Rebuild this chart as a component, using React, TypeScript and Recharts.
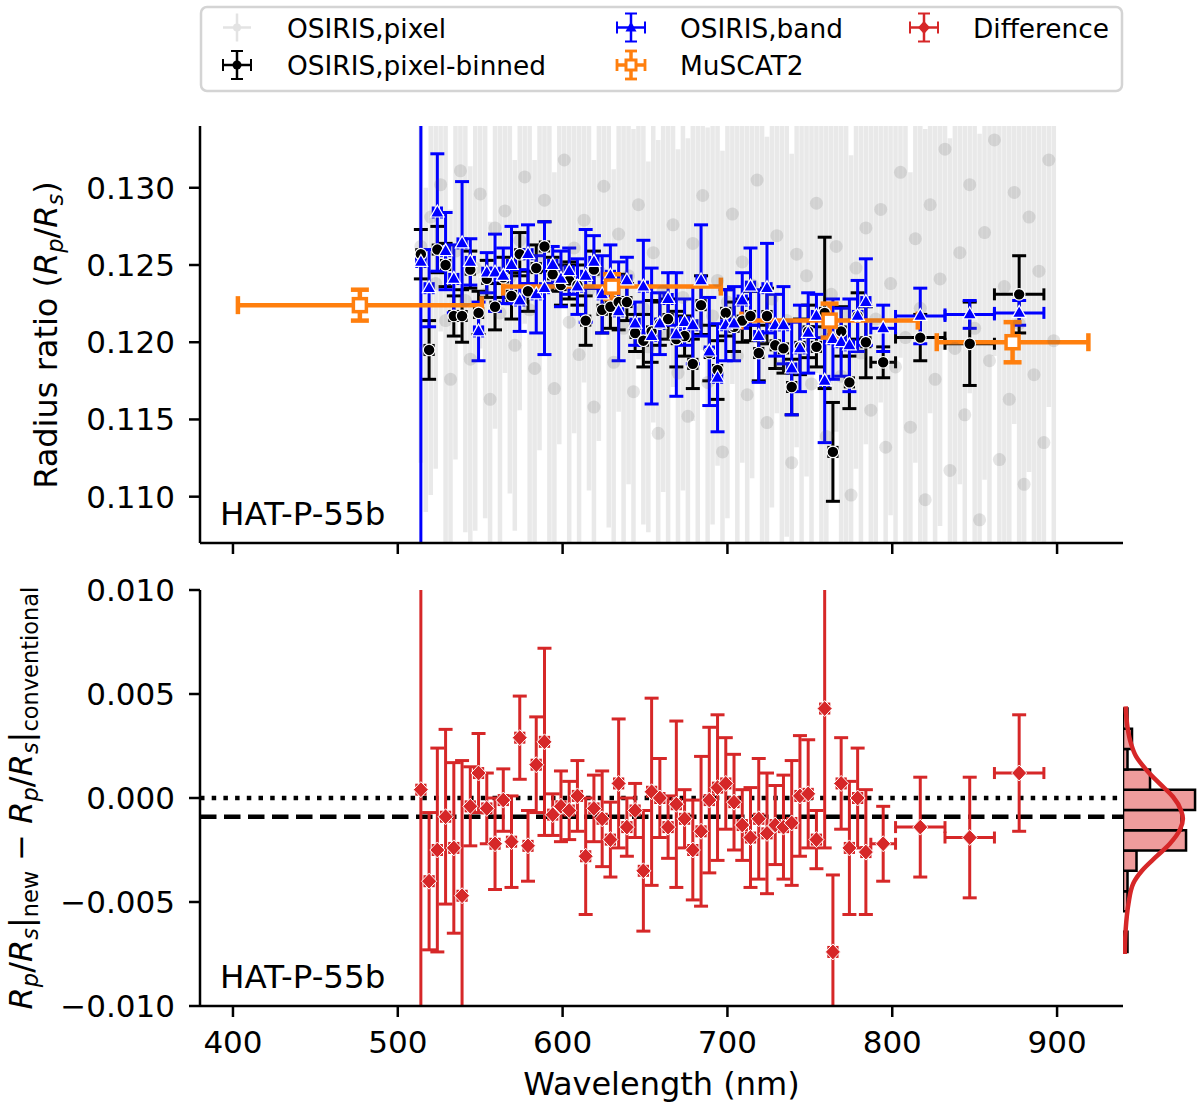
import React from 'react';
import { ComposedChart, Scatter, XAxis, YAxis, ErrorBar, ReferenceLine, ReferenceArea } from 'recharts';

const FONT = '"DejaVu Sans", "Liberation Sans", sans-serif';

// ---------- OSIRIS, pixel (faint background) ----------
const pixelWl = [
  514, 517, 520, 523, 526, 529, 532, 535, 538, 541,
  544, 547, 550, 553, 556, 559, 562, 565, 568, 571,
  574, 577, 580, 583, 586, 589, 592, 595, 598, 601,
  604, 607, 610, 613, 616, 619, 622, 625, 628, 631,
  634, 637, 640, 643, 646, 649, 652, 655, 658, 661,
  664, 667, 670, 673, 676, 679, 682, 685, 688, 691,
  694, 697, 700, 703, 706, 709, 712, 715, 718, 721,
  724, 727, 730, 733, 736, 739, 742, 745, 748, 751,
  754, 757, 760, 763, 766, 769, 772, 775, 778, 781,
  784, 787, 790, 793, 796, 799, 802, 805, 808, 811,
  814, 817, 820, 823, 826, 829, 832, 835, 838, 841,
  844, 847, 850, 853, 856, 859, 862, 865, 868, 871,
  874, 877, 880, 883, 886, 889, 892, 895, 898,
];
const pixelRp = [
  0.1262, 0.1195, 0.1281, 0.1238, 0.1302, 0.1214, 0.1176, 0.1259, 0.1311, 0.1227,
  0.1189, 0.1248, 0.1296, 0.1231, 0.1163, 0.1274, 0.1219, 0.1285, 0.1242, 0.1198,
  0.1266, 0.1307, 0.1221, 0.1183, 0.1255, 0.1292, 0.1236, 0.1170, 0.1249, 0.1318,
  0.1213, 0.1261, 0.1192, 0.1279, 0.1234, 0.1158, 0.1246, 0.1301, 0.1225, 0.1187,
  0.1270, 0.1209, 0.1243, 0.1168, 0.1289, 0.1222, 0.1197, 0.1258, 0.1141, 0.1233,
  0.1205, 0.1276, 0.1180, 0.1229, 0.1152, 0.1264, 0.1211, 0.1295, 0.1174, 0.1217,
  0.1240, 0.1129, 0.1226, 0.1283, 0.1191, 0.1252, 0.1166, 0.1237, 0.1305, 0.1201,
  0.1148, 0.1228, 0.1269, 0.1185, 0.1214, 0.1122, 0.1257, 0.1196, 0.1243, 0.1173,
  0.1290, 0.1207, 0.1139, 0.1231, 0.1262, 0.1178, 0.1219, 0.1101, 0.1248, 0.1193,
  0.1274, 0.1156, 0.1215, 0.1286, 0.1132, 0.1238, 0.1184, 0.1310, 0.1203, 0.1145,
  0.1267, 0.1222, 0.1098, 0.1289, 0.1176, 0.1241, 0.1325, 0.1117, 0.1196, 0.1258,
  0.1153, 0.1302, 0.1209, 0.1085, 0.1271, 0.1188, 0.1331, 0.1124, 0.1236, 0.1163,
  0.1297, 0.1212, 0.1108, 0.1281, 0.1179, 0.1246, 0.1135, 0.1318, 0.1201,
];
const pixelErr = [
  0.0140, 0.0105, 0.0180, 0.0120, 0.0095, 0.0160, 0.0110, 0.0135, 0.0090, 0.0150,
  0.0125, 0.0170, 0.0100, 0.0145, 0.0115, 0.0130, 0.0185, 0.0105, 0.0140, 0.0120,
  0.0110, 0.0095, 0.0155, 0.0135, 0.0125, 0.0100, 0.0165, 0.0140, 0.0115, 0.0090,
  0.0150, 0.0120, 0.0175, 0.0105, 0.0130, 0.0160, 0.0110, 0.0095, 0.0145, 0.0125,
  0.0115, 0.0155, 0.0135, 0.0170, 0.0100, 0.0140, 0.0120, 0.0110, 0.0190, 0.0130,
  0.0160, 0.0105, 0.0145, 0.0125, 0.0180, 0.0115, 0.0150, 0.0100, 0.0165, 0.0135,
  0.0120, 0.0195, 0.0140, 0.0110, 0.0155, 0.0130, 0.0175, 0.0125, 0.0100, 0.0145,
  0.0185, 0.0135, 0.0115, 0.0160, 0.0140, 0.0200, 0.0125, 0.0150, 0.0130, 0.0170,
  0.0110, 0.0145, 0.0210, 0.0135, 0.0120, 0.0165, 0.0150, 0.0220, 0.0130, 0.0155,
  0.0140, 0.0190, 0.0160, 0.0125, 0.0230, 0.0150, 0.0175, 0.0120, 0.0200, 0.0165,
  0.0145, 0.0170, 0.0240, 0.0135, 0.0185, 0.0160, 0.0130, 0.0215, 0.0175, 0.0150,
  0.0200, 0.0135, 0.0180, 0.0250, 0.0160, 0.0190, 0.0140, 0.0225, 0.0170, 0.0205,
  0.0150, 0.0185, 0.0235, 0.0165, 0.0210, 0.0175, 0.0245, 0.0160, 0.0195,
];

// ---------- binned wavelengths (shared by binned, band and difference) ----------
const binWl = [
  514, 519, 524, 529, 534, 539, 544, 549, 554, 559,
  564, 569, 574, 579, 584, 589, 594, 599, 604, 609,
  614, 619, 624, 629, 634, 639, 644, 649, 654, 659,
  664, 669, 674, 679, 684, 689, 694, 699, 704, 709,
  714, 719, 724, 729, 734, 739, 744, 749, 754, 759,
  764, 769, 774, 779, 784, 794.5, 817, 847, 877,
];
const binXErr = [
  2.5, 2.5, 2.5, 2.5, 2.5, 2.5, 2.5, 2.5, 2.5, 2.5,
  2.5, 2.5, 2.5, 2.5, 2.5, 2.5, 2.5, 2.5, 2.5, 2.5,
  2.5, 2.5, 2.5, 2.5, 2.5, 2.5, 2.5, 2.5, 2.5, 2.5,
  2.5, 2.5, 2.5, 2.5, 2.5, 2.5, 2.5, 2.5, 2.5, 2.5,
  2.5, 2.5, 2.5, 2.5, 2.5, 2.5, 2.5, 2.5, 2.5, 2.5,
  2.5, 2.5, 2.5, 2.5, 2.5, 7.5, 15, 15, 15,
];

// OSIRIS, pixel-binned
const binnedRp = [
  0.1257, 0.1195, 0.1260, 0.1250, 0.1217, 0.1217, 0.1247, 0.1219, 0.1241, 0.1223,
  0.1242, 0.1230, 0.1257, 0.1233, 0.1248, 0.1262, 0.1244, 0.1237, 0.1240, 0.1237,
  0.1214, 0.1247, 0.1221, 0.1223, 0.1226, 0.1226, 0.1206, 0.1201, 0.1207, 0.1212,
  0.1215, 0.1202, 0.1204, 0.1186, 0.1224, 0.1193, 0.1182, 0.1219, 0.1210, 0.1214,
  0.1217, 0.1193, 0.1217, 0.1198, 0.1196, 0.1171, 0.1197, 0.1207, 0.1197, 0.1219,
  0.1129, 0.1207, 0.1174, 0.1217, 0.1200, 0.1187, 0.1203, 0.1199, 0.1231,
];
const binnedErr = [
  0.0016, 0.0019, 0.0015, 0.0014, 0.0013, 0.0017, 0.0012, 0.0014, 0.0012, 0.0015,
  0.0013, 0.0015, 0.0014, 0.0013, 0.0015, 0.0016, 0.0011, 0.0013, 0.0012, 0.0013,
  0.0016, 0.0012, 0.0015, 0.0014, 0.0018, 0.0012, 0.0012, 0.0017, 0.0020, 0.0014,
  0.0013, 0.0018, 0.0013, 0.0016, 0.0019, 0.0018, 0.0019, 0.0015, 0.0016, 0.0014,
  0.0016, 0.0018, 0.0018, 0.0015, 0.0016, 0.0018, 0.0018, 0.0017, 0.0013, 0.0049,
  0.0032, 0.0016, 0.0017, 0.0015, 0.0023, 0.0010, 0.0015, 0.0027, 0.0025,
];

// OSIRIS, band
const bandRp = [
  0.1252, 0.1235, 0.1284, 0.1259, 0.1241, 0.1264, 0.1252, 0.1207, 0.1245, 0.1245,
  0.1243, 0.1250, 0.1227, 0.1257, 0.1231, 0.1235, 0.1250, 0.1241, 0.1246, 0.1236,
  0.1243, 0.1252, 0.1231, 0.1243, 0.1220, 0.1240, 0.1212, 0.1236, 0.1204, 0.1212,
  0.1228, 0.1205, 0.1213, 0.1211, 0.1240, 0.1194, 0.1177, 0.1211, 0.1212, 0.1227,
  0.1236, 0.1204, 0.1235, 0.1211, 0.1211, 0.1183, 0.1196, 0.1206, 0.1217, 0.1175,
  0.1202, 0.1200, 0.1198, 0.1217, 0.1226, 0.1209, 0.1217, 0.1218, 0.1219,
];
const bandErr = [
  0.0300, 0.0025, 0.0038, 0.0025, 0.0022, 0.0040, 0.0015, 0.0019, 0.0013, 0.0025,
  0.0018, 0.0025, 0.0020, 0.0019, 0.0025, 0.0043, 0.0012, 0.0018, 0.0015, 0.0018,
  0.0030, 0.0017, 0.0025, 0.0020, 0.0032, 0.0015, 0.0014, 0.0030, 0.0044, 0.0020,
  0.0017, 0.0040, 0.0015, 0.0025, 0.0036, 0.0035, 0.0035, 0.0023, 0.0024, 0.0018,
  0.0025, 0.0030, 0.0029, 0.0020, 0.0025, 0.0030, 0.0028, 0.0026, 0.0014, 0.0040,
  0.0026, 0.0022, 0.0030, 0.0023, 0.0028, 0.0015, 0.0018, 0.0009, 0.0008,
];

// Difference (new - conventional)
const diffVal = [
  0.0004, -0.0040, -0.0025, -0.0009, -0.0024, -0.0047, -0.0004, 0.0012, -0.0005, -0.0022,
  -0.0001, -0.0021, 0.0029, -0.0023, 0.0016, 0.0027, -0.0008, -0.0004, -0.0006, 0.0001,
  -0.0028, -0.0005, -0.0010, -0.0020, 0.0007, -0.0014, -0.0006, -0.0035, 0.0003, 0.0000,
  -0.0014, -0.0003, -0.0010, -0.0025, -0.0016, -0.0001, 0.0005, 0.0007, -0.0002, -0.0013,
  -0.0019, -0.0010, -0.0017, -0.0013, -0.0014, -0.0012, 0.0001, 0.0002, -0.0020, 0.0043,
  -0.0074, 0.0007, -0.0024, 0.0000, -0.0026, -0.0022, -0.0014, -0.0019, 0.0012,
];
const diffErr = [
  0.0130, 0.0033, 0.0049, 0.0042, 0.0041, 0.0065, 0.0019, 0.0019, 0.0017, 0.0022,
  0.0015, 0.0022, 0.0020, 0.0017, 0.0023, 0.0045, 0.0010, 0.0017, 0.0014, 0.0017,
  0.0028, 0.0016, 0.0023, 0.0018, 0.0031, 0.0014, 0.0013, 0.0029, 0.0045, 0.0019,
  0.0015, 0.0040, 0.0014, 0.0024, 0.0036, 0.0035, 0.0035, 0.0022, 0.0023, 0.0017,
  0.0024, 0.0029, 0.0029, 0.0019, 0.0025, 0.0030, 0.0029, 0.0026, 0.0014, 0.0067,
  0.0037, 0.0022, 0.0032, 0.0024, 0.0030, 0.0018, 0.0024, 0.0029, 0.0028,
];
const meanDiff = -0.0009;

// MuSCAT2
const muscatWl = [477, 630, 762, 873];
const muscatXErr = [74, 66, 53.5, 46];
const muscatRp = [0.1224, 0.1236, 0.1214, 0.1200];
const muscatErr = [0.0010, 0.0008, 0.0011, 0.0013];

// Histogram of differences (side panel)
const histEdges = [-0.0074, -0.00643, -0.00545, -0.00448, -0.0035, -0.00253, -0.00155, -0.00058, 0.0004, 0.00137, 0.00235, 0.00333, 0.0043];
const histCounts = [1, 0, 1, 1, 3, 14, 13, 16, 6, 1, 2, 1];
const curveVal = [0.0044, 0.0034, 0.0026, 0.0020, 0.00135, 0.0007, 0.00006, -0.0006, -0.0010, -0.0015, -0.0022, -0.0028, -0.0035, -0.0041, -0.0051, -0.0063, -0.0075];
const curveCount = [0.6, 1.0, 1.8, 2.9, 5.2, 8.1, 11.1, 12.9, 13.3, 12.7, 10.4, 7.5, 4.2, 2.3, 1.2, 0.6, 0.4];

// Ticks
const xTicks = [400, 500, 600, 700, 800, 900];
const topYTicks = [0.110, 0.115, 0.120, 0.125, 0.130];
const botYTicks = [-0.010, -0.005, 0.0, 0.005, 0.010];

// ---------- rows built from the arrays ----------
const pixelRows = pixelWl.map((x, i) => ({ x, y: pixelRp[i], ey: pixelErr[i] }));
const binnedRows = binWl.map((x, i) => ({ x, y: binnedRp[i], ex: binXErr[i], ey: binnedErr[i] }));
const bandRows = binWl.map((x, i) => ({ x, y: bandRp[i], ex: binXErr[i], ey: bandErr[i] }));
const diffRows = binWl.map((x, i) => ({ x, y: diffVal[i], ex: binXErr[i], ey: diffErr[i] }));
const muscatRows = muscatWl.map((x, i) => ({ x, y: muscatRp[i], ex: muscatXErr[i], ey: muscatErr[i] }));
const curveRows = curveVal.map((v, i) => ({ c: curveCount[i], v }));

// ---------- marker shapes ----------
const grayShape = (p: any) =>
  p.cx == null ? <g /> : <circle cx={p.cx} cy={p.cy} r={6.5} fill="rgba(90,90,90,0.16)" />;
const blackShape = (p: any) =>
  p.cx == null ? <g /> : <circle cx={p.cx} cy={p.cy} r={5.8} fill="#000" stroke="#fff" strokeWidth={1.2} />;
const blueShape = (p: any) => {
  if (p.cx == null) return <g />;
  const { cx, cy } = p;
  return <path d={`M${cx},${cy - 7.5}L${cx + 6.8},${cy + 4.5}L${cx - 6.8},${cy + 4.5}Z`} fill="#0000ff" stroke="#fff" strokeWidth={1.2} />;
};
const orangeShape = (p: any) =>
  p.cx == null ? <g /> : <rect x={p.cx - 6.5} y={p.cy - 6.5} width={13} height={13} fill="#fff" stroke="#ff7f0e" strokeWidth={3.5} />;
const redShape = (p: any) => {
  if (p.cx == null) return <g />;
  const { cx, cy } = p;
  return <path d={`M${cx},${cy - 8}L${cx + 7.5},${cy}L${cx},${cy + 8}L${cx - 7.5},${cy}Z`} fill="#d62728" stroke="#fff" strokeWidth={1} />;
};
const noShape = () => <g />;

const tickStyle = { fontSize: 31, fontFamily: FONT, fill: '#000' };
const axisLineStyle = { stroke: '#000', strokeWidth: 2.5 };
const fmt = (v: number) => (v < -1e-9 ? '\u2212' + Math.abs(v).toFixed(3) : Math.abs(v).toFixed(3));

// panel geometry (chart sizes / margins)
const TOP_H = 580;
const TOP_MARGIN = { top: 126, right: 77, bottom: 7, left: 0 };
const BOT_H = 551;
const BOT_MARGIN = { top: 30, right: 77, bottom: 35, left: 0 };

// ---------- legend icon ----------
function ErrIcon({ cx, cy, color, lw, cap, kind, faint }: any) {
  const h = 14;
  const v = 14;
  return (
    <g>
      <line x1={cx - h} y1={cy} x2={cx + h} y2={cy} stroke={color} strokeWidth={lw} />
      <line x1={cx} y1={cy - v} x2={cx} y2={cy + v} stroke={color} strokeWidth={lw} />
      {cap && (
        <g stroke={color} strokeWidth={lw * 0.8}>
          <line x1={cx - h} y1={cy - 6} x2={cx - h} y2={cy + 6} />
          <line x1={cx + h} y1={cy - 6} x2={cx + h} y2={cy + 6} />
          <line x1={cx - 6} y1={cy - v} x2={cx + 6} y2={cy - v} />
          <line x1={cx - 6} y1={cy + v} x2={cx + 6} y2={cy + v} />
        </g>
      )}
      {kind === 'circle' && <circle cx={cx} cy={cy} r={faint ? 4 : 4.5} fill={color} />}
      {kind === 'tri' && <path d={`M${cx},${cy - 6}L${cx + 5.5},${cy + 4}L${cx - 5.5},${cy + 4}Z`} fill={color} />}
      {kind === 'square' && <rect x={cx - 5} y={cy - 5} width={10} height={10} fill="#fff" stroke={color} strokeWidth={3} />}
      {kind === 'diamond' && <path d={`M${cx},${cy - 6.5}L${cx + 6},${cy}L${cx},${cy + 6.5}L${cx - 6},${cy}Z`} fill={color} />}
    </g>
  );
}

// invisible axes that keep the data layers aligned with the drawn axes
function HiddenAxes({ yDomain, xHeight }: { yDomain: number[]; xHeight: number }) {
  return null as any;
}

export default function App() {
  return (
    <div style={{ position: 'absolute', left: 0, top: 0, width: 1200, height: 1111, background: '#fff', fontFamily: FONT }}>
      {/* ===== Top panel: data layer (clipped to plot area) ===== */}
      <div style={{ position: 'absolute', left: 0, top: 0, width: 1200, height: TOP_H, clipPath: 'inset(126px 77px 37px 200px)' }}>
        <ComposedChart width={1200} height={TOP_H} margin={TOP_MARGIN}>
          <XAxis type="number" dataKey="x" domain={[380, 940]} allowDataOverflow ticks={xTicks}
            height={30} tick={false} tickLine={false} axisLine={false} />
          <YAxis type="number" dataKey="y" domain={[0.107, 0.134]} allowDataOverflow ticks={topYTicks}
            width={200} tick={false} tickLine={false} axisLine={false} />
          <Scatter name="OSIRIS,pixel" data={pixelRows} shape={grayShape} isAnimationActive={false}>
            <ErrorBar dataKey="ey" direction="y" stroke="rgba(120,120,120,0.16)" strokeWidth={4.5} width={0} isAnimationActive={false} />
          </Scatter>
          <Scatter name="OSIRIS,pixel-binned" data={binnedRows} shape={blackShape} isAnimationActive={false}>
            <ErrorBar dataKey="ex" direction="x" stroke="#000" strokeWidth={3} width={6} isAnimationActive={false} />
            <ErrorBar dataKey="ey" direction="y" stroke="#000" strokeWidth={3} width={7} isAnimationActive={false} />
          </Scatter>
          <Scatter name="OSIRIS,band" data={bandRows} shape={blueShape} isAnimationActive={false}>
            <ErrorBar dataKey="ex" direction="x" stroke="#0000ff" strokeWidth={3} width={6} isAnimationActive={false} />
            <ErrorBar dataKey="ey" direction="y" stroke="#0000ff" strokeWidth={3} width={7} isAnimationActive={false} />
          </Scatter>
          <Scatter name="MuSCAT2" data={muscatRows} shape={orangeShape} isAnimationActive={false}>
            <ErrorBar dataKey="ex" direction="x" stroke="#ff7f0e" strokeWidth={4.5} width={9} isAnimationActive={false} />
            <ErrorBar dataKey="ey" direction="y" stroke="#ff7f0e" strokeWidth={4.5} width={9} isAnimationActive={false} />
          </Scatter>
        </ComposedChart>
      </div>
      {/* ===== Top panel: axes and frame ===== */}
      <div style={{ position: 'absolute', left: 0, top: 0 }}>
        <ComposedChart width={1200} height={TOP_H} margin={TOP_MARGIN}>
          <XAxis xAxisId="b" type="number" dataKey="x" domain={[380, 940]} allowDataOverflow ticks={xTicks}
            tickFormatter={() => ''} height={30} tickSize={11} axisLine={axisLineStyle} tickLine={axisLineStyle} tick={tickStyle} />
          <XAxis xAxisId="t" orientation="top" type="number" domain={[380, 940]} allowDataOverflow height={0}
            tick={false} tickLine={false} axisLine={axisLineStyle} />
          <YAxis yAxisId="l" type="number" dataKey="y" domain={[0.107, 0.134]} allowDataOverflow ticks={topYTicks}
            tickFormatter={fmt} width={200} tickSize={11} tickMargin={14} axisLine={axisLineStyle} tickLine={axisLineStyle} tick={tickStyle} />
          <YAxis yAxisId="r" orientation="right" type="number" domain={[0.107, 0.134]} allowDataOverflow width={0}
            tick={false} tickLine={false} axisLine={axisLineStyle} />
        </ComposedChart>
      </div>

      {/* ===== Bottom panel: data layer (clipped) ===== */}
      <div style={{ position: 'absolute', left: 0, top: 560, width: 1200, height: BOT_H, clipPath: 'inset(30px 77px 105px 200px)' }}>
        <ComposedChart width={1200} height={BOT_H} margin={BOT_MARGIN}>
          <XAxis type="number" dataKey="x" domain={[380, 940]} allowDataOverflow ticks={xTicks}
            height={70} tick={false} tickLine={false} axisLine={false} />
          <YAxis type="number" dataKey="y" domain={[-0.01, 0.01]} allowDataOverflow ticks={botYTicks}
            width={200} tick={false} tickLine={false} axisLine={false} />
          <ReferenceLine y={0} stroke="#000" strokeWidth={4.5} strokeDasharray="4.5 7.2" />
          <ReferenceLine y={meanDiff} stroke="#000" strokeWidth={4.5} strokeDasharray="16.5 7.5" />
          <Scatter name="Difference" data={diffRows} shape={redShape} isAnimationActive={false}>
            <ErrorBar dataKey="ex" direction="x" stroke="#d62728" strokeWidth={3} width={6} isAnimationActive={false} />
            <ErrorBar dataKey="ey" direction="y" stroke="#d62728" strokeWidth={3} width={7} isAnimationActive={false} />
          </Scatter>
        </ComposedChart>
      </div>
      {/* ===== Bottom panel: axes and frame ===== */}
      <div style={{ position: 'absolute', left: 0, top: 560 }}>
        <ComposedChart width={1200} height={BOT_H} margin={BOT_MARGIN}>
          <XAxis xAxisId="b" type="number" dataKey="x" domain={[380, 940]} allowDataOverflow ticks={xTicks}
            height={70} tickSize={11} tickMargin={14} axisLine={axisLineStyle} tickLine={axisLineStyle} tick={tickStyle} />
          <XAxis xAxisId="t" orientation="top" type="number" domain={[380, 940]} allowDataOverflow height={0}
            tick={false} tickLine={false} axisLine={axisLineStyle} />
          <YAxis yAxisId="l" type="number" dataKey="y" domain={[-0.01, 0.01]} allowDataOverflow ticks={botYTicks}
            tickFormatter={fmt} width={200} tickSize={11} tickMargin={14} axisLine={axisLineStyle} tickLine={axisLineStyle} tick={tickStyle} />
          <YAxis yAxisId="r" orientation="right" type="number" domain={[-0.01, 0.01]} allowDataOverflow width={0}
            tick={false} tickLine={false} axisLine={axisLineStyle} />
        </ComposedChart>
      </div>

      {/* ===== Histogram side panel ===== */}
      <div style={{ position: 'absolute', left: 1123, top: 560 }}>
        <ComposedChart width={77} height={BOT_H} margin={{ top: 30, right: 0, bottom: 105, left: 0 }}>
          <XAxis type="number" dataKey="c" domain={[0, 17.1]} allowDataOverflow hide />
          <YAxis type="number" dataKey="v" domain={[-0.01, 0.01]} allowDataOverflow hide />
          {histCounts.map((c, i) =>
            c > 0 ? (
              <ReferenceArea key={i} x1={0} x2={c} y1={histEdges[i]} y2={histEdges[i + 1]}
                fill="#ef9c9c" fillOpacity={1} stroke="#000" strokeWidth={2.5} ifOverflow="visible" />
            ) : null
          )}
          <Scatter data={curveRows} shape={noShape} line={{ stroke: '#d62728', strokeWidth: 4.5 }}
            lineType="joint" lineJointType="monotoneY" isAnimationActive={false} />
        </ComposedChart>
      </div>

      {/* ===== Text labels and legend ===== */}
      <svg width={1200} height={1111} style={{ position: 'absolute', left: 0, top: 0, pointerEvents: 'none' }}
        fontFamily={FONT}>
        <rect x={201} y={7} width={921} height={84} rx={6} fill="#fff" fillOpacity={0.85} stroke="#d4d4d4" strokeWidth={2.5} />
        <ErrIcon cx={237} cy={27.5} color="#e3e3e3" lw={2.5} cap={false} kind="circle" faint />
        <ErrIcon cx={237} cy={65} color="#000" lw={2.5} cap kind="circle" />
        <ErrIcon cx={631} cy={27.5} color="#0000ff" lw={2.5} cap kind="tri" />
        <ErrIcon cx={631} cy={65} color="#ff7f0e" lw={3.5} cap kind="square" />
        <ErrIcon cx={924} cy={27.5} color="#d62728" lw={2.5} cap kind="diamond" />
        <g fontSize={26.4} fill="#000">
          <text x={287} y={38}>OSIRIS,pixel</text>
          <text x={287} y={75}>OSIRIS,pixel-binned</text>
          <text x={680} y={38}>OSIRIS,band</text>
          <text x={680} y={75}>MuSCAT2</text>
          <text x={973} y={38}>Difference</text>
        </g>

        <text x={220} y={525} fontSize={32.5} fill="#000">HAT-P-55b</text>
        <text x={220} y={988} fontSize={32.5} fill="#000">HAT-P-55b</text>

        <text transform="translate(57,335) rotate(-90)" textAnchor="middle" fontSize={32} fill="#000">
          Radius ratio (<tspan fontStyle="italic">R</tspan>
          <tspan fontStyle="italic" fontSize={22.5} dy={6}>p</tspan>
          <tspan dy={-6}>/</tspan>
          <tspan fontStyle="italic">R</tspan>
          <tspan fontStyle="italic" fontSize={22.5} dy={6}>s</tspan>
          <tspan dy={-6}>)</tspan>
        </text>
        <text transform="translate(32,798) rotate(-90)" textAnchor="middle" fontSize={32} fill="#000">
          <tspan fontStyle="italic">R</tspan>
          <tspan fontStyle="italic" fontSize={22.5} dy={6}>p</tspan>
          <tspan dy={-6}>/</tspan>
          <tspan fontStyle="italic">R</tspan>
          <tspan fontStyle="italic" fontSize={22.5} dy={6}>s</tspan>
          <tspan dy={-6}>|</tspan>
          <tspan fontSize={22.5} dy={6}>new</tspan>
          <tspan dy={-6}>{' \u2212 '}</tspan>
          <tspan fontStyle="italic">R</tspan>
          <tspan fontStyle="italic" fontSize={22.5} dy={6}>p</tspan>
          <tspan dy={-6}>/</tspan>
          <tspan fontStyle="italic">R</tspan>
          <tspan fontStyle="italic" fontSize={22.5} dy={6}>s</tspan>
          <tspan dy={-6}>|</tspan>
          <tspan fontSize={22.5} dy={6}>conventional</tspan>
        </text>
        <text x={661.5} y={1095} textAnchor="middle" fontSize={32} fill="#000">Wavelength (nm)</text>
      </svg>
    </div>
  );
}
